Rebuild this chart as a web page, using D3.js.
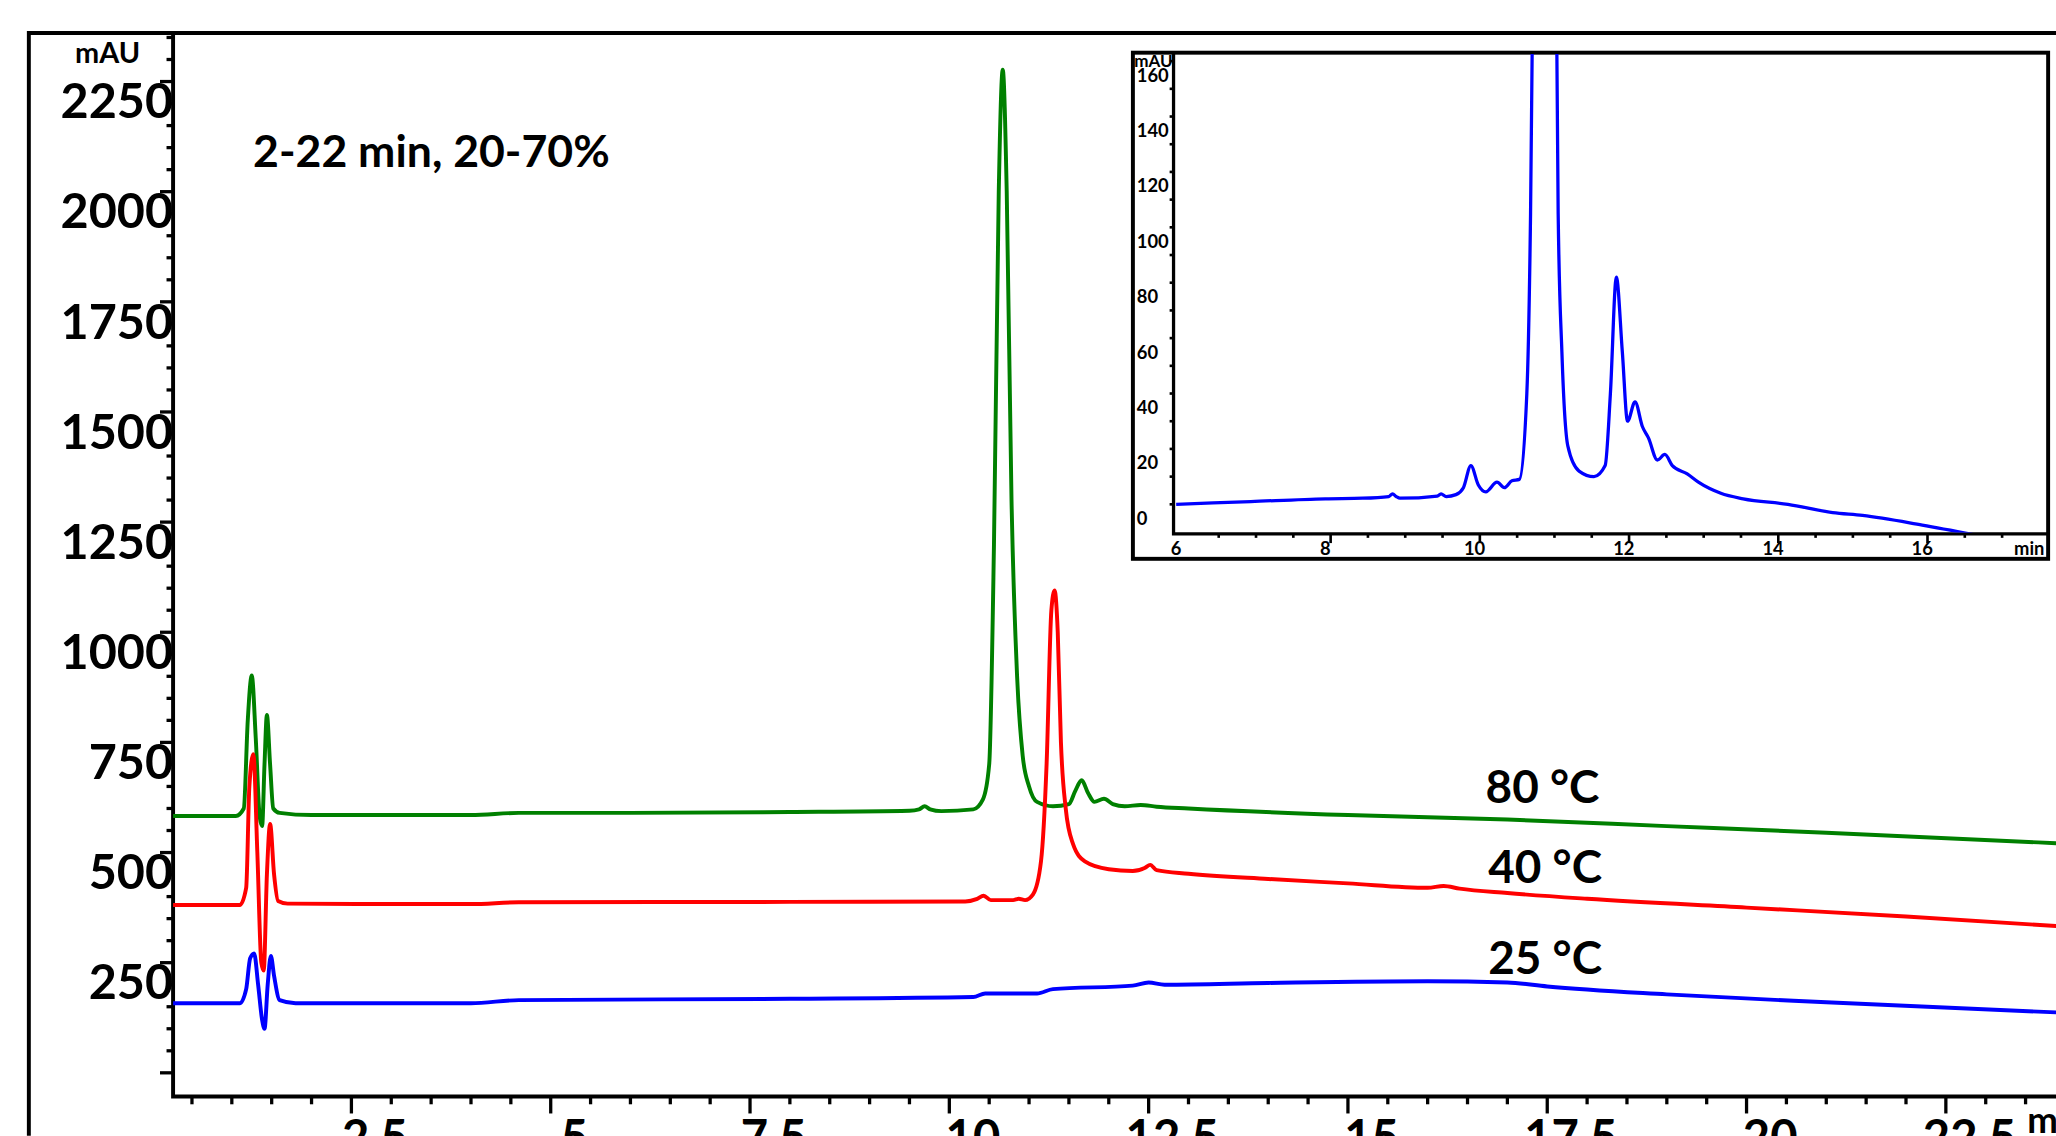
<!DOCTYPE html>
<html><head><meta charset="utf-8">
<script src="https://cdn.jsdelivr.net/npm/d3@7"></script>
<style>body{margin:0;background:#fff}text{font-family:Lato,"Open Sans",sans-serif;font-weight:bold}</style>
</head><body>
<script>
// chromatogram traces, [time (min), absorbance (mAU)]
const trace80 = [[0.26,583],[1.05,583],[1.15,600],[1.2,800],[1.25,902],[1.3,760],[1.35,580],[1.38,560],[1.41,700],[1.44,812],[1.48,700],[1.52,600],[1.6,590],[2,585],[3,585],[4,585],[4.6,590],[6,590],[8,592],[9.5,595],[9.62,598],[9.69,605],[9.76,598],[9.9,594],[10.3,598],[10.42,620],[10.5,700],[10.56,1200],[10.62,2000],[10.67,2277],[10.72,2000],[10.78,1300],[10.85,900],[10.92,720],[11.0,650],[11.1,615],[11.3,605],[11.5,610],[11.58,640],[11.66,664],[11.74,635],[11.82,615],[11.94,622],[12.05,610],[12.2,605],[12.4,608],[12.6,604],[13,600],[15,585],[17,575],[19,560],[21,545],[23.9,521]];
const trace40 = [[0.26,381],[1.1,381],[1.18,420],[1.22,650],[1.27,723],[1.32,500],[1.37,250],[1.4,232],[1.44,450],[1.48,565],[1.53,450],[1.58,390],[1.7,384],[3,383],[4,383],[4.6,387],[8,388],[10.2,389],[10.35,395],[10.43,402],[10.52,392],[10.8,392],[10.87,395],[10.95,392],[11.05,405],[11.15,480],[11.22,700],[11.28,1050],[11.32,1095],[11.36,1000],[11.4,750],[11.46,600],[11.55,520],[11.7,480],[12,462],[12.3,458],[12.45,465],[12.52,472],[12.6,460],[13,452],[14,440],[15,430],[16,420],[16.2,424],[16.4,418],[17,408],[18,395],[20,375],[22,355],[23.9,333]];
const trace25 = [[0.26,158],[1.1,158],[1.18,190],[1.23,260],[1.28,271],[1.33,200],[1.38,120],[1.41,100],[1.45,200],[1.49,265],[1.53,220],[1.6,165],[1.8,158],[4,158],[4.6,165],[8,168],[10.3,172],[10.45,180],[10.9,180],[11.1,180],[11.3,190],[12.3,198],[12.5,205],[12.7,200],[14,204],[16,208],[17,205],[17.5,196],[19,178],[21,160],[23.9,137]];
const insetTrace = [[6,5],[7,6],[8,7],[8.5,7.2],[8.85,7.8],[8.9,8.8],[8.95,7.8],[9.0,7.2],[9.5,8],[9.55,8.8],[9.62,7.8],[9.75,8.5],[9.85,11],[9.95,19],[10.05,12],[10.15,9.5],[10.3,13],[10.4,11],[10.5,13.5],[10.6,14],[10.7,45],[10.75,110],[10.8,250],[10.9,500],[11.0,500],[11.08,250],[11.12,110],[11.17,60],[11.25,26],[11.4,17],[11.6,15],[11.75,19],[11.82,45],[11.9,87],[11.98,60],[12.05,35],[12.15,42],[12.25,33],[12.33,29],[12.45,21],[12.55,23],[12.65,19],[12.85,16],[13.0,13],[13.3,9],[13.6,7],[14.2,5],[14.8,2],[15.2,1],[16.0,-2.5],[16.7,-6]];
const yTicks = [250,500,750,1000,1250,1500,1750,2000,2250];
const xTicks = [2.5,5,7.5,10,12.5,15,17.5,20,22.5];
const insetXTicks = [6,8,10,12,14,16];
const insetYTicks = [0,20,40,60,80,100,120,140,160];
const series = [
  {name:'80 °C', data:trace80, color:'#008000', lx:1133, ly:612},
  {name:'40 °C', data:trace40, color:'#ff0000', lx:1135, ly:673},
  {name:'25 °C', data:trace25, color:'#0000ff', lx:1135, ly:743}
];

const svg = d3.select('body').append('svg')
  .attr('width', 2056).attr('height', 1136)
  .attr('viewBox', '0 0 1568 866');

const x = d3.scaleLinear().domain([0, 25]).range([116, 116 + 60.8 * 25]);
const y = d3.scaleLinear().domain([0, 2250]).range([818, 62]);

svg.append('clipPath').attr('id', 'mainClip').append('rect')
  .attr('x', 132).attr('y', 25).attr('width', 1436).attr('height', 811);

// frame
svg.append('path').attr('d', 'M22,866 V25 H1568').attr('fill', 'none').attr('stroke', '#000').attr('stroke-width', 3);
svg.append('path').attr('d', 'M132,25 V836 H1568').attr('fill', 'none').attr('stroke', '#000').attr('stroke-width', 3);

// y ticks
const yMinor = d3.range(-50, 2400, 50).filter(v => y(v) > 27 && y(v) < 834);
svg.append('g').selectAll('line').data(yMinor).join('line')
  .attr('x1', 132).attr('x2', d => d % 250 === 0 ? 122 : 127)
  .attr('y1', d => y(d)).attr('y2', d => y(d)).attr('stroke', '#000').attr('stroke-width', 2.5);
svg.append('g').selectAll('text').data(yTicks).join('text')
  .attr('x', 132).attr('y', d => y(d) + 28).attr('text-anchor', 'end')
  .attr('font-size', 37).text(d => d);
svg.append('text').attr('x', 82).attr('y', 48).attr('text-anchor', 'middle').attr('font-size', 22).text('mAU');

// x ticks
const xMinor = d3.range(0.5, 24, 0.5).filter(v => x(v) > 134);
svg.append('g').selectAll('line').data(xMinor).join('line')
  .attr('x1', d => x(d)).attr('x2', d => x(d)).attr('y1', 836)
  .attr('y2', d => Math.abs(d % 2.5) < 1e-9 ? 849 : 842).attr('stroke', '#000').attr('stroke-width', 2.5);
svg.append('g').selectAll('text').data(xTicks).join('text')
  .attr('x', d => x(d) + 18).attr('y', 880).attr('text-anchor', 'middle')
  .attr('font-size', 36).text(d => d);
svg.append('text').attr('x', 1546).attr('y', 864).attr('font-size', 28).text('min');

svg.append('text').attr('x', 193).attr('y', 127).attr('font-size', 34).text('2-22 min, 20-70%');

const line = d3.line().x(d => x(d[0])).y(d => y(d[1])).curve(d3.curveMonotoneX);
const g = svg.append('g').attr('clip-path', 'url(#mainClip)');
series.forEach(s => {
  g.append('path').attr('d', line(s.data)).attr('fill', 'none')
    .attr('stroke', s.color).attr('stroke-width', 3);
  svg.append('text').attr('x', s.lx).attr('y', s.ly).attr('font-size', 35).text(s.name);
});

// inset
const ix = d3.scaleLinear().domain([6, 16]).range([897, 1466]);
const iy = d3.scaleLinear().domain([0, 160]).range([395, 57]);
svg.append('rect').attr('x', 864).attr('y', 40).attr('width', 698).attr('height', 386)
  .attr('fill', '#fff').attr('stroke', '#000').attr('stroke-width', 3);
svg.append('path').attr('d', 'M895,40 V407 H1562').attr('fill', 'none').attr('stroke', '#000').attr('stroke-width', 2.5);
svg.append('clipPath').attr('id', 'insetClip').append('rect')
  .attr('x', 896).attr('y', 41).attr('width', 665).attr('height', 365);
const iMinorY = d3.range(-5, 170, 10).filter(v => iy(v) > 42 && iy(v) < 405);
svg.append('g').selectAll('line').data(iMinorY).join('line')
  .attr('x1', 895).attr('x2', d => d % 20 === 0 ? 890 : 892)
  .attr('y1', d => iy(d)).attr('y2', d => iy(d)).attr('stroke', '#000').attr('stroke-width', 2);
svg.append('g').selectAll('text').data(insetYTicks).join('text')
  .attr('x', 867).attr('y', d => iy(d) + 5).attr('font-size', 14).text(d => d);
svg.append('text').attr('x', 865).attr('y', 51).attr('font-size', 13).attr('font-weight', 'normal').text('mAU');
const iMinorX = d3.range(6.5, 17.5, 0.5).filter(v => ix(v) < 1558);
svg.append('g').selectAll('line').data(iMinorX).join('line')
  .attr('x1', d => ix(d) + 4).attr('x2', d => ix(d) + 4).attr('y1', 407)
  .attr('y2', d => d % 2 === 0 ? 414 : 410).attr('stroke', '#000').attr('stroke-width', 2);
svg.append('g').selectAll('text').data(insetXTicks).join('text')
  .attr('x', d => ix(d)).attr('y', 423).attr('text-anchor', 'middle').attr('font-size', 14).text(d => d);
svg.append('text').attr('x', 1536).attr('y', 423).attr('font-size', 14).text('min');
const iline = d3.line().x(d => ix(d[0])).y(d => iy(d[1])).curve(d3.curveMonotoneX);
svg.append('path').attr('clip-path', 'url(#insetClip)').attr('d', iline(insetTrace))
  .attr('fill', 'none').attr('stroke', '#0000ff').attr('stroke-width', 2.5);
</script>
</body></html>
